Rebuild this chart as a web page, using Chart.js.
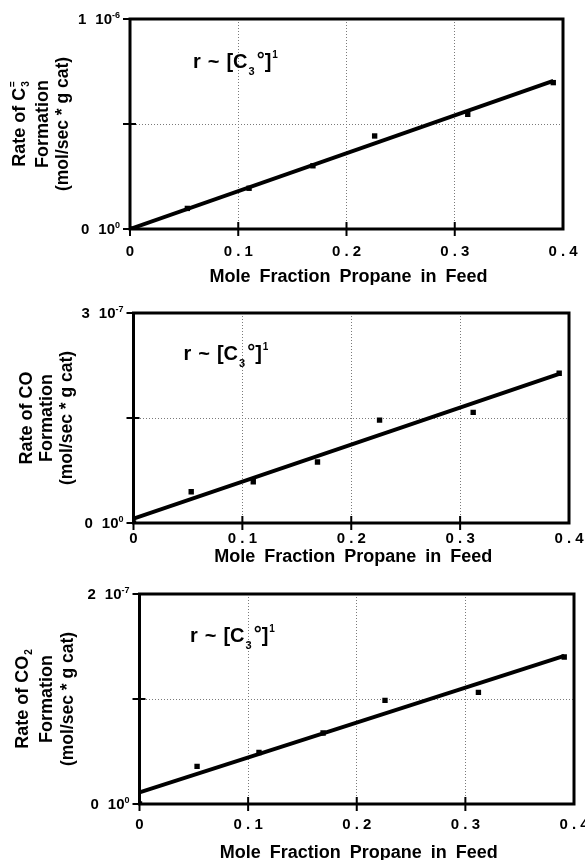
<!DOCTYPE html>
<html>
<head>
<meta charset="utf-8">
<script src="https://cdn.jsdelivr.net/npm/chart.js@4.4.0/dist/chart.umd.min.js"></script>
<style>
    html, body { margin: 0; padding: 0; background: #fff; width: 585px; height: 860px; overflow: hidden; }
    .panel { position: absolute; left: 0; }
</style>
</head>
<body>
<div class="panel" style="top:0px"><canvas id="chartC3" width="620" height="285"></canvas></div>
<div class="panel" style="top:288px"><canvas id="chartCO" width="620" height="282"></canvas></div>
<div class="panel" style="top:572px"><canvas id="chartCO2" width="620" height="288"></canvas></div>
<script>
// Rate vs. propane mole fraction

const feedFraction = [0, 0.053, 0.110, 0.169, 0.226, 0.312, 0.391];
const rateC3 = [0, 0.98e-7, 1.94e-7, 3.01e-7, 4.43e-7, 5.46e-7, 6.97e-7];
const rateCO = [0, 0.447e-7, 0.59e-7, 0.871e-7, 1.47e-7, 1.58e-7, 2.14e-7];
const rateCO2 = [0, 0.358e-7, 0.49e-7, 0.676e-7, 0.987e-7, 1.063e-7, 1.40e-7];

// power-law fit lines (end points)
const fitX = [0, 0.391];
const fitC3 = [0, 7.05e-7];
const fitCO = [0.061e-7, 2.13e-7];
const fitCO2 = [0.11e-7, 1.41e-7];

const xTicks = [0, 0.1, 0.2, 0.3, 0.4];
const yMaxC3 = 1e-6;
const yMaxCO = 3e-7;
const yMaxCO2 = 2e-7;
const yTopLabelC3 = ['1', '-6'];
const yTopLabelCO = ['3', '-7'];
const yTopLabelCO2 = ['2', '-7'];
const yZeroLabel = ['0', '0'];

const xTitle = 'Mole Fraction Propane in Feed';
const FONT = '"Liberation Sans", Arial, Helvetica, sans-serif';

// parts: [text, size, dy, dxBefore]
function richWidth(ctx, parts) {
    let w = 0;
    parts.forEach(p => {
        ctx.font = 'bold ' + p[1] + 'px ' + FONT;
        w += ctx.measureText(p[0]).width + (p[3] || 0);
    });
    return w;
}

function drawRich(ctx, parts, x, y, align) {
    const total = richWidth(ctx, parts);
    let cx = align === 'right' ? x - total : align === 'center' ? x - total / 2 : x;
    ctx.textAlign = 'left';
    ctx.textBaseline = 'alphabetic';
    ctx.fillStyle = '#000';
    parts.forEach(p => {
        ctx.font = 'bold ' + p[1] + 'px ' + FONT;
        cx += p[3] || 0;
        ctx.fillText(p[0], cx, y + (p[2] || 0));
        cx += ctx.measureText(p[0]).width;
    });
}

function makeChart(id, rates, fitY, yMax, topLabel, look) {
    const canvas = document.getElementById(id);

    const decor = {
        id: 'decor' + id,
        afterDraw(chart) {
            const ctx = chart.ctx;
            const area = chart.chartArea;
            const xs = chart.scales.x;
            const ys = chart.scales.y;
            ctx.save();

            // frame
            ctx.strokeStyle = '#000';
            ctx.lineWidth = 3;
            ctx.strokeRect(area.left, area.top, area.right - area.left, area.bottom - area.top);

            // tick marks crossing the axes
            ctx.lineWidth = 2;
            xTicks.slice(0, 4).forEach(v => {
                const px = xs.getPixelForValue(v);
                ctx.beginPath();
                ctx.moveTo(px, area.bottom - 7);
                ctx.lineTo(px, area.bottom + 7);
                ctx.stroke();
            });
            [0, yMax / 2, yMax].forEach(v => {
                const py = ys.getPixelForValue(v);
                ctx.beginPath();
                ctx.moveTo(area.left - 7, py);
                ctx.lineTo(area.left + (v === yMax / 2 ? 6 : 0), py);
                ctx.stroke();
            });

            // y tick labels
            [[0, yZeroLabel], [yMax, topLabel]].forEach(([v, lab]) => {
                const py = ys.getPixelForValue(v);
                drawRich(ctx, [[lab[0], 15, 0, 0], ['10', 15, 0, 9], [lab[1], 9, -6, 0]],
                    area.left - 10, py + 5, 'right');
            });

            // y axis title (three rotated lines)
            const cy = (area.top + area.bottom) / 2;
            look.yTitle.forEach((parts, i) => {
                ctx.save();
                ctx.translate(look.yTitleX[i], cy);
                ctx.rotate(-Math.PI / 2);
                drawRich(ctx, parts, 0, 6, 'center');
                ctx.restore();
            });

            // x axis title
            ctx.save();
            ctx.wordSpacing = '4px';
            drawRich(ctx, [[xTitle, 18, 0, 0]], (area.left + area.right) / 2 + 2, area.bottom + look.xTitleDy + 6.5, 'center');
            ctx.restore();

            // r ~ [C3°]^1
            const ax = area.left + look.note[0];
            const ay = area.top + look.note[1];
            drawRich(ctx, [
                ['r', 20, 0, 0], ['~', 20, 0, 7], ['[', 20, 0, 7], ['C', 20, 0, 0],
                ['3', 11, 7, 1], ['\u00B0', 20, -2, 2], [']', 20, 0, 0], ['1', 10, -10, 1]
            ], ax, ay, 'left');

            ctx.restore();
        }
    };

    const gridStyle = { color: '#7a7a7a', lineWidth: 1, drawTicks: false };

    return new Chart(canvas.getContext('2d'), {
        type: 'scatter',
        data: {
            datasets: [
                {
                    data: feedFraction.map((x, i) => ({ x, y: rates[i] })),
                    pointStyle: 'rect',
                    pointRadius: 3.8,
                    backgroundColor: '#000',
                    borderColor: '#000',
                    borderWidth: 0
                },
                {
                    data: fitX.map((x, i) => ({ x, y: fitY[i] })),
                    showLine: true,
                    borderColor: '#000',
                    borderWidth: 4,
                    pointRadius: 0,
                    fill: false
                }
            ]
        },
        options: {
            responsive: false,
            animation: false,
            devicePixelRatio: 1,
            layout: { padding: { top: look.top, right: canvas.width - look.right, bottom: 0, left: 0 } },
            plugins: { legend: { display: false }, tooltip: { enabled: false } },
            scales: {
                x: {
                    type: 'linear',
                    min: 0,
                    max: 0.4,
                    afterBuildTicks: s => { s.ticks = xTicks.map(v => ({ value: v })); },
                    afterFit: s => { s.height = canvas.height - look.bottom; },
                    grid: gridStyle,
                    border: { display: false, dash: [1, 2] },
                    ticks: {
                        padding: look.tickPad,
                        color: '#000',
                        font: { family: FONT, size: 15, weight: 'bold' },
                        callback: v => v === 0 ? '0' : Number(v).toFixed(1).split('').join(' ')
                    }
                },
                y: {
                    type: 'linear',
                    min: 0,
                    max: yMax,
                    afterBuildTicks: s => { s.ticks = [0, yMax / 2, yMax].map(v => ({ value: v })); },
                    afterFit: s => { s.width = look.left; },
                    grid: gridStyle,
                    border: { display: false, dash: [1, 2] },
                    ticks: { display: false }
                }
            }
        },
        plugins: [decor]
    });
}

const line2 = [['Formation', 18, 0, 0]];
const line3 = [['(mol/sec * g cat)', 17.5, 0, 0]];

makeChart('chartC3', rateC3, fitC3, yMaxC3, yTopLabelC3, {
    left: 130, right: 563, top: 19, bottom: 229, tickPad: 14,
    yTitleX: [19, 42, 62], xTitleDy: 46, note: [63, 49],
    yTitle: [[['Rate of C', 18, 0, 0], ['3', 10, 4, 1], ['=', 10, -9, -6]], line2, line3]
});

makeChart('chartCO', rateCO, fitCO, yMaxCO, yTopLabelCO, {
    left: 133.5, right: 569, top: 25, bottom: 235, tickPad: 7,
    yTitleX: [26, 46, 66], xTitleDy: 32, note: [50, 47],
    yTitle: [[['Rate of CO', 18, 0, 0]], line2, line3]
});

makeChart('chartCO2', rateCO2, fitCO2, yMaxCO2, yTopLabelCO2, {
    left: 139.5, right: 574, top: 22, bottom: 232, tickPad: 12,
    yTitleX: [22, 46, 67], xTitleDy: 47.5, note: [50.5, 48],
    yTitle: [[['Rate of CO', 18, 0, 0], ['2', 10, 4, 1]], line2, line3]
});
</script>
</body>
</html>
